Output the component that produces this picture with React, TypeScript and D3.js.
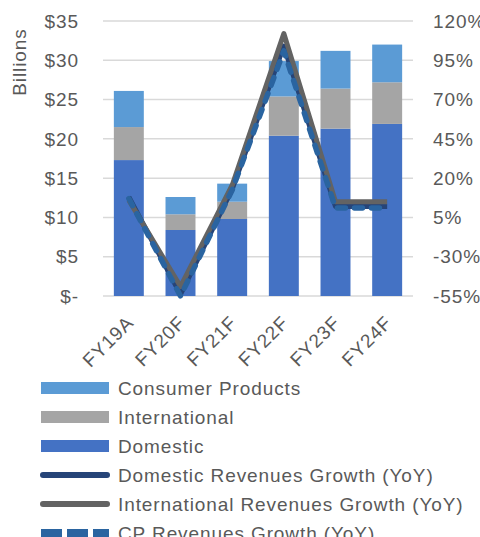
import * as d3 from "d3";

const WIDTH = 480;
const HEIGHT = 537;

const years = ["FY19A", "FY20F", "FY21F", "FY22F", "FY23F", "FY24F"];

// revenue by segment, $ billions
const domestic = [17.3, 8.4, 9.8, 20.4, 21.3, 21.9];
const international = [4.2, 2.0, 2.2, 5.0, 5.1, 5.3];
const consumerProducts = [4.6, 2.2, 2.3, 4.5, 4.8, 4.8];

// year-over-year growth, %
const domesticGrowth = [8, -54, 13, 104, 2, 2];
const internationalGrowth = [6, -49, 15.5, 112, 5, 5];
const cpGrowth = [7, -55, 12.5, 101, 1, 1];

const leftTicks = [0, 5, 10, 15, 20, 25, 30, 35];
const leftTickLabels = ["$-", "$5", "$10", "$15", "$20", "$25", "$30", "$35"];
const rightTicks = [-55, -30, -5, 20, 45, 70, 95, 120];
const rightTickLabels = ["-55%", "-30%", "5%", "20%", "45%", "70%", "95%", "120%"];

const COLORS = {
  domestic: "#4472C4",
  international: "#A5A5A5",
  consumer: "#5B9BD5",
  domGrowth: "#264478",
  intlGrowth: "#636363",
  cpGrowth: "#2A64A0",
  grid: "#D9D9D9",
  text: "#595959",
};

const FONT = "'Liberation Sans', Arial, sans-serif";
const PLOT = { left: 103, right: 413, top: 21, bottom: 296 };
const SPACING = 0.9;

export default function App() {
  const x = d3
    .scaleBand<string>()
    .domain(years)
    .range([PLOT.left, PLOT.right])
    .paddingInner(0.42)
    .paddingOuter(0.21);
  const yLeft = d3.scaleLinear().domain([0, 35]).range([PLOT.bottom, PLOT.top]);
  const yRight = d3.scaleLinear().domain([-55, 120]).range([PLOT.bottom, PLOT.top]);

  const series = [
    { key: "domestic", values: domestic, color: COLORS.domestic },
    { key: "international", values: international, color: COLORS.international },
    { key: "consumer", values: consumerProducts, color: COLORS.consumer },
  ];
  const rows = years.map((yr, i) => ({
    year: yr,
    domestic: domestic[i],
    international: international[i],
    consumer: consumerProducts[i],
  }));
  const stacked = d3.stack<any>().keys(series.map((s) => s.key))(rows);

  const line = d3
    .line<number>()
    .x((_, i) => (x(years[i]) ?? 0) + x.bandwidth() / 2)
    .y((d) => yRight(d));

  const legend = [
    { label: "Consumer Products", type: "rect", color: COLORS.consumer },
    { label: "International", type: "rect", color: COLORS.international },
    { label: "Domestic", type: "rect", color: COLORS.domestic },
    { label: "Domestic Revenues Growth (YoY)", type: "line", color: COLORS.domGrowth },
    { label: "International Revenues Growth (YoY)", type: "line", color: COLORS.intlGrowth },
    { label: "CP Revenues Growth (YoY)", type: "dash", color: COLORS.cpGrowth },
  ];

  return (
    <div style={{ position: "absolute", left: 0, top: 0 }}>
      <svg
        width={WIDTH}
        height={HEIGHT}
        fontFamily={FONT}
        letterSpacing={SPACING}
        style={{ display: "block" }}
      >
        <rect width={WIDTH} height={HEIGHT} fill="#fff" />

        {/* gridlines */}
        {leftTicks.map((t) => (
          <line
            key={t}
            x1={PLOT.left}
            x2={PLOT.right}
            y1={yLeft(t)}
            y2={yLeft(t)}
            stroke={COLORS.grid}
            strokeWidth={1.5}
          />
        ))}

        {/* stacked bars */}
        {stacked.map((layer, li) => (
          <g key={layer.key} fill={series[li].color}>
            {layer.map((d, i) => (
              <rect
                key={i}
                x={x(years[i])}
                width={x.bandwidth()}
                y={yLeft(d[1])}
                height={yLeft(d[0]) - yLeft(d[1])}
              />
            ))}
          </g>
        ))}

        {/* growth lines */}
        <path d={line(domesticGrowth) ?? ""} fill="none" stroke={COLORS.domGrowth} strokeWidth={5} strokeLinejoin="round" />
        <path d={line(internationalGrowth) ?? ""} fill="none" stroke={COLORS.intlGrowth} strokeWidth={5} strokeLinejoin="round" />
        <path
          d={line(cpGrowth) ?? ""}
          fill="none"
          stroke={COLORS.cpGrowth}
          strokeWidth={5.5}
          strokeDasharray="8 9"
          strokeLinecap="round"
          strokeLinejoin="round"
        />

        {/* left axis */}
        {leftTicks.map((t, i) => (
          <text key={t} x={79} y={yLeft(t)} dy="0.35em" textAnchor="end" fontSize={19} fill={COLORS.text}>
            {leftTickLabels[i]}
          </text>
        ))}
        <text transform="translate(26,62) rotate(-90)" textAnchor="middle" fontSize={19} fill={COLORS.text}>
          Billions
        </text>

        {/* right axis */}
        {rightTicks.map((t, i) => (
          <text key={t} x={433} y={yRight(t)} dy="0.35em" textAnchor="start" fontSize={19} fill={COLORS.text}>
            {rightTickLabels[i]}
          </text>
        ))}

        {/* category labels */}
        {years.map((yr) => (
          <text
            key={yr}
            transform={`translate(${(x(yr) ?? 0) + x.bandwidth() / 2 + 6},${324}) rotate(-45)`}
            textAnchor="end"
            fontSize={19}
            fill={COLORS.text}
          >
            {yr}
          </text>
        ))}

        {/* legend */}
        {legend.map((item, i) => {
          const cy = 388 + i * 29;
          return (
            <g key={item.label}>
              {item.type === "rect" && <rect x={41} y={cy - 6} width={68} height={12} fill={item.color} />}
              {item.type === "line" && (
                <line x1={43} x2={107} y1={cy} y2={cy} stroke={item.color} strokeWidth={6} strokeLinecap="round" />
              )}
              {item.type === "dash" && (
                <line x1={41} x2={109} y1={cy} y2={cy} stroke={item.color} strokeWidth={8} strokeDasharray="21 5" />
              )}
              <text x={118} y={cy} dy="0.35em" fontSize={19} fill={COLORS.text}>
                {item.label}
              </text>
            </g>
          );
        })}
      </svg>
    </div>
  );
}
